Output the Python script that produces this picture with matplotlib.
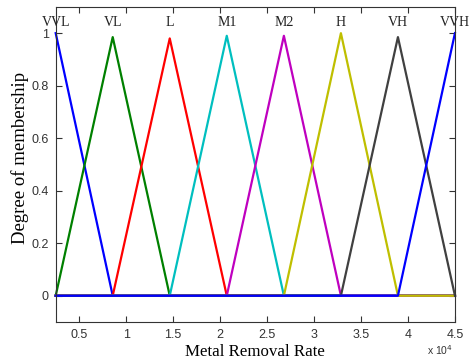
import numpy as np
import matplotlib
matplotlib.use("Agg")
import matplotlib.pyplot as plt
from matplotlib.ticker import FuncFormatter

# ========================
# Data (membership functions)
# ========================
LABELS = ["VVL", "VL", "L", "M1", "M2", "H", "VH", "VVH"]
# breakpoints of the triangles (metal removal rate)
CENTERS = [2500, 8570, 14640, 20710, 26790, 32860, 38930, 45000]
PEAKS = [1.0, 0.985, 0.98, 0.99, 0.99, 1.0, 0.985, 1.0]
COLORS = [(0, 0, 1), (0, 0.5, 0), (1, 0, 0), (0, 0.75, 0.75),
          (0.75, 0, 0.75), (0.75, 0.75, 0), (0.25, 0.25, 0.25), (0, 0, 1)]
X_TICKS = [5000, 10000, 15000, 20000, 25000, 30000, 35000, 40000, 45000]
Y_TICKS = [0, 0.2, 0.4, 0.6, 0.8, 1.0]

SERIF = "Liberation Serif"
SANS = "Liberation Sans"

fig = plt.figure(figsize=(4.70, 3.63), dpi=100)
ax = fig.add_axes([0.1185, 0.113, 0.8495, 0.868])

x_min, x_max = CENTERS[0], CENTERS[-1]
for i, (name, c, p, col) in enumerate(zip(LABELS, CENTERS, PEAKS, COLORS)):
    xs, ys = [x_min], [0]
    left = CENTERS[i - 1] if i > 0 else None
    right = CENTERS[i + 1] if i < len(CENTERS) - 1 else None
    if left is not None:
        xs.append(left); ys.append(0)
    else:
        ys[0] = p
    if i > 0:
        xs.append(c); ys.append(p)
    if right is not None:
        xs.append(right); ys.append(0)
        xs.append(x_max); ys.append(0)
    ax.plot(xs, ys, color=col, lw=1.6, clip_on=False)
    ax.text(c, 1.04, name, ha="center", va="center", fontsize=10,
            family=SERIF, color="#222222")

ax.set_xlim(x_min, x_max)
ax.set_ylim(-0.1, 1.1)
ax.set_xticks(X_TICKS)
ax.set_yticks(Y_TICKS)
ax.xaxis.set_major_formatter(FuncFormatter(lambda v, _: f"{v / 1e4:g}"))
ax.yaxis.set_major_formatter(FuncFormatter(lambda v, _: f"{v:g}"))
ax.tick_params(direction="in", top=True, right=True, length=4, width=0.8,
               labelsize=9, colors="#333333", pad=5)
for lab in ax.get_xticklabels() + ax.get_yticklabels():
    lab.set_family(SANS)
for s in ax.spines.values():
    s.set_color("#333333")
    s.set_linewidth(0.8)

ax.set_xlabel("Metal Removal Rate", family=SERIF, fontsize=12.2)
ax.set_ylabel("Degree of membership", family=SERIF, fontsize=13.5)
ax.xaxis.set_label_coords(0.5, -0.07)
ax.yaxis.set_label_coords(-0.068, 0.52)
fig.text(0.908, 0.022, r"x 10$^{4}$", family=SANS, fontsize=7.5, color="#333333")

fig.savefig("out.png", dpi=100)
